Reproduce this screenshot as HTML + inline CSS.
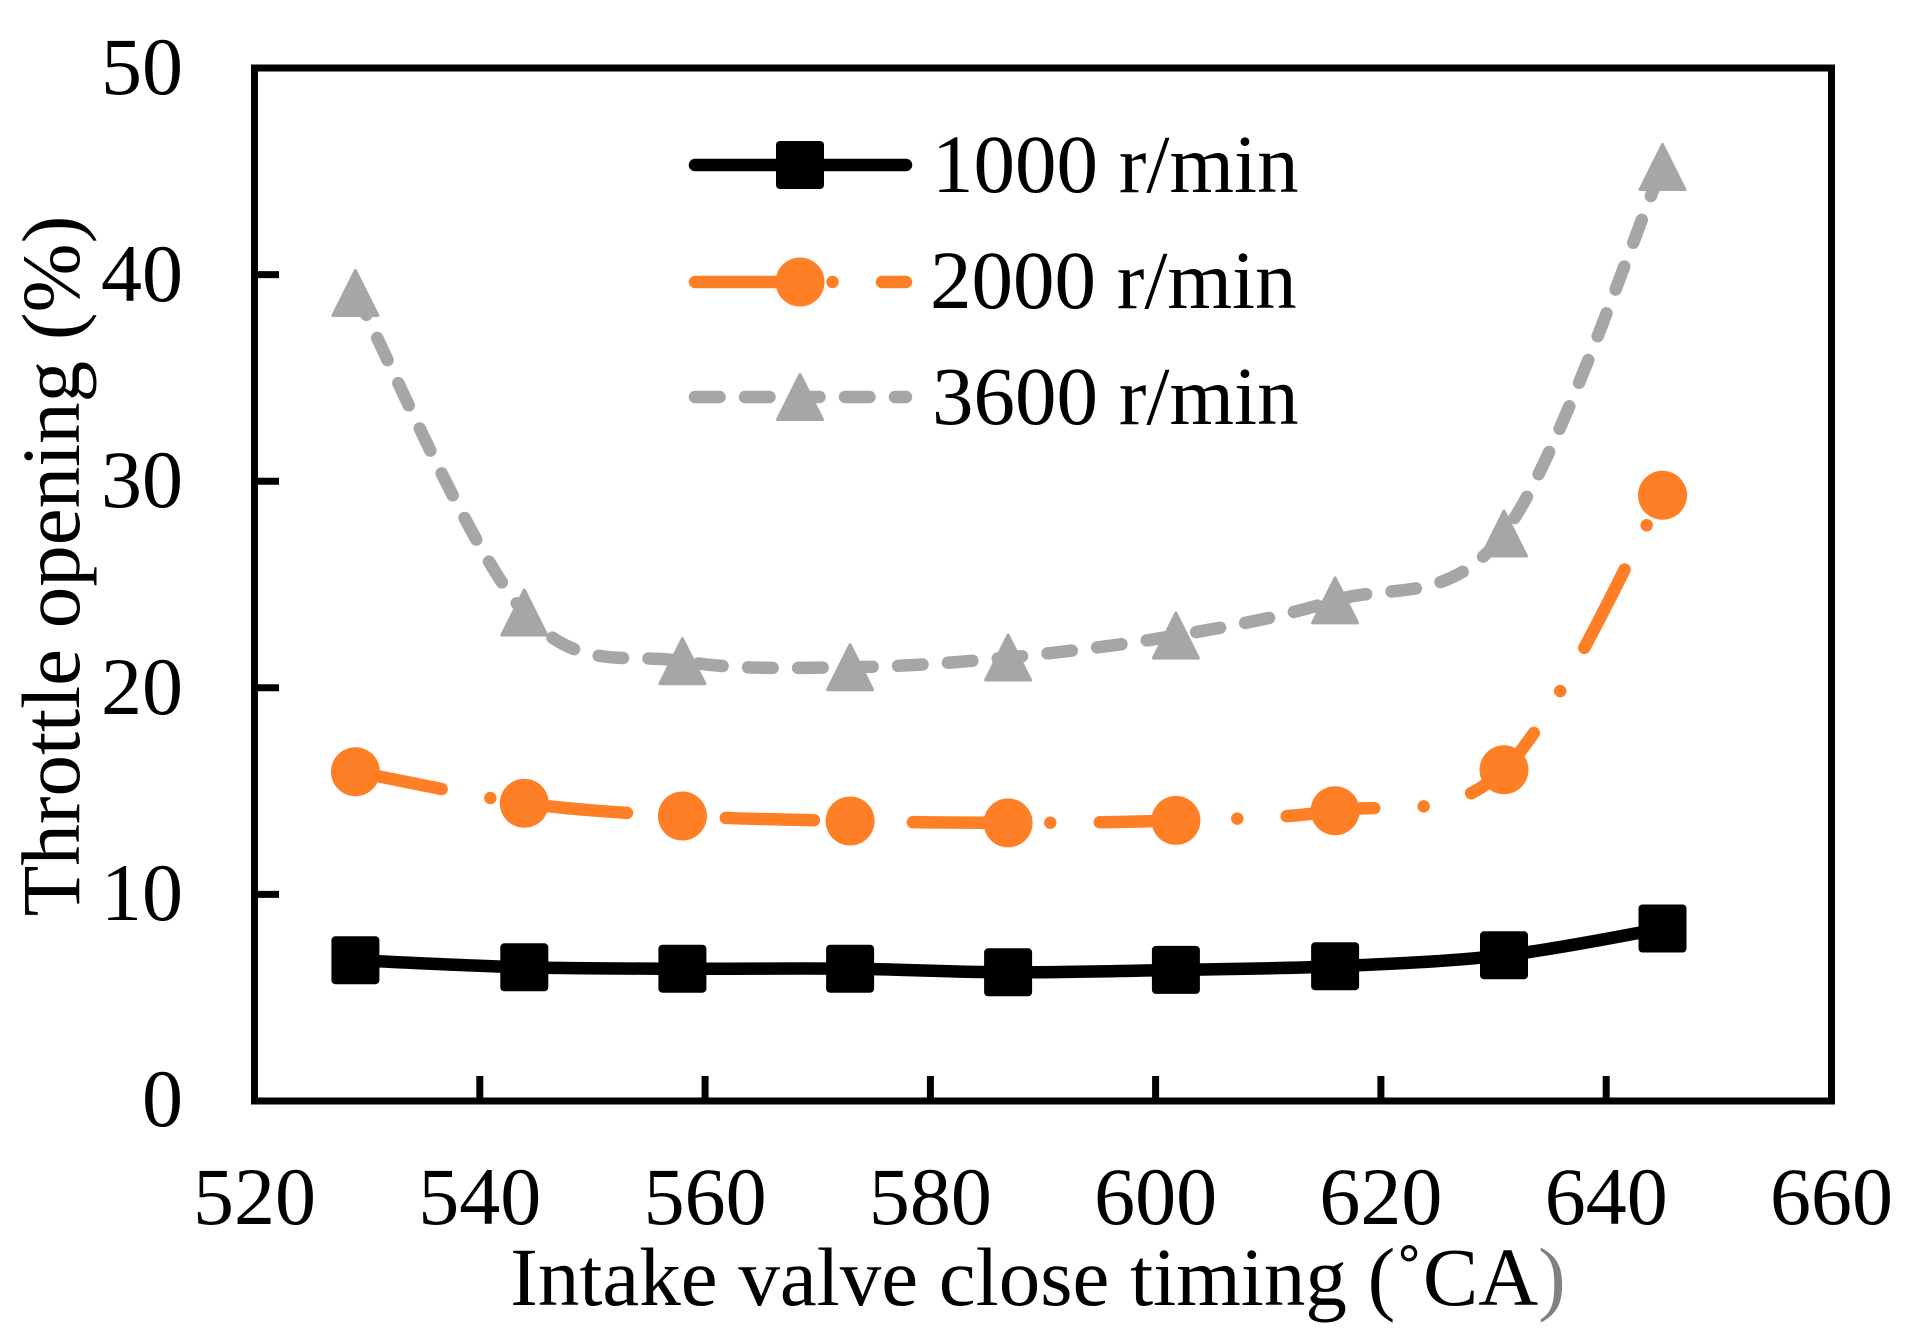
<!DOCTYPE html>
<html>
<head>
<meta charset="utf-8">
<style>
  html, body { margin: 0; padding: 0; background: #ffffff; }
  svg { display: block; }
  text { font-family: "Liberation Serif", "Times New Roman", serif; fill: #000; }
</style>
</head>
<body>
<svg id="chart" xmlns="http://www.w3.org/2000/svg" width="1910" height="1341" viewBox="0 0 1910 1341">
  <rect x="0" y="0" width="1910" height="1341" fill="#ffffff"/>

  <!-- plot frame -->
  <rect x="254.5" y="68" width="1577" height="1033" fill="none" stroke="#000" stroke-width="7"/>

  <!-- y ticks (inward) -->
  <g stroke="#000" stroke-width="7">
    <line x1="254.5" y1="894.4" x2="279" y2="894.4"/>
    <line x1="254.5" y1="687.8" x2="279" y2="687.8"/>
    <line x1="254.5" y1="481.2" x2="279" y2="481.2"/>
    <line x1="254.5" y1="274.6" x2="279" y2="274.6"/>
  </g>
  <!-- x ticks (inward) -->
  <g stroke="#000" stroke-width="7">
    <line x1="479.8" y1="1101" x2="479.8" y2="1076"/>
    <line x1="705.1" y1="1101" x2="705.1" y2="1076"/>
    <line x1="930.4" y1="1101" x2="930.4" y2="1076"/>
    <line x1="1155.6" y1="1101" x2="1155.6" y2="1076"/>
    <line x1="1380.9" y1="1101" x2="1380.9" y2="1076"/>
    <line x1="1606.2" y1="1101" x2="1606.2" y2="1076"/>
  </g>

  <!-- y tick labels -->
  <g font-size="82" text-anchor="end">
    <text x="183" y="1126">0</text>
    <text x="183" y="920">10</text>
    <text x="183" y="714">20</text>
    <text x="183" y="507">30</text>
    <text x="183" y="301">40</text>
    <text x="183" y="94">50</text>
  </g>

  <!-- x tick labels -->
  <g font-size="82" text-anchor="middle">
    <text x="254.5" y="1224">520</text>
    <text x="479.8" y="1224">540</text>
    <text x="705.1" y="1224">560</text>
    <text x="930.4" y="1224">580</text>
    <text x="1155.6" y="1224">600</text>
    <text x="1380.9" y="1224">620</text>
    <text x="1606.2" y="1224">640</text>
    <text x="1831.5" y="1224">660</text>
  </g>

  <!-- axis titles -->
  <text x="1038" y="1305" font-size="83" text-anchor="middle">Intake valve close timing (&#730;CA<tspan fill="#808080">)</tspan></text>
  <text transform="translate(79,566) rotate(-90)" font-size="83" text-anchor="middle">Throttle opening (%)</text>

  <!-- series -->
  <g id="series"></g>

  <!-- legend -->
  <g>
    <line x1="695" y1="165" x2="906" y2="165" stroke="#000" stroke-width="12.5" stroke-linecap="round"/>
    <rect x="776" y="141" width="48" height="48" rx="4" ry="4" fill="#000"/>
    <text x="932" y="192" font-size="83">1000 r/min</text>

    <line x1="695" y1="282" x2="906" y2="282" stroke="#FF7F27" stroke-width="12.5" stroke-linecap="round" stroke-dasharray="88 49.5 0 49.5"/>
    <circle cx="800" cy="282" r="24.5" fill="#FF7F27"/>
    <text x="930" y="308" font-size="83">2000 r/min</text>

    <line x1="695" y1="397" x2="906" y2="397" stroke="#A6A6A6" stroke-width="12.5" stroke-linecap="round" stroke-dasharray="24.5 25.5"/>
    <polygon points="800,374.5 777.5,419.5 822.5,419.5" fill="#A6A6A6" stroke="#A6A6A6" stroke-width="3" stroke-linejoin="round"/>
    <text x="932" y="424" font-size="83">3600 r/min</text>
  </g>
</svg>

<script>
(function(){
  var NS = "http://www.w3.org/2000/svg";
  var X = [355.4, 524.3, 682.4, 850.1, 1008.1, 1175.9, 1335.1, 1504.0, 1662.5];
  var series = [
    {y:[960.2, 967.3, 968.7, 968.7, 972.3, 969.9, 966.2, 955.3, 928.5], color:"#000000", dash:null, marker:"square"},
    {y:[771.7, 803.3, 816.0, 821.0, 822.9, 820.4, 810.7, 769.8, 495.3], color:"#FF7F27", dash:"88 49.5 0 49.5", marker:"circle"},
    {y:[293.0, 612.5, 661.2, 667.2, 657.5, 635.6, 600.4, 533.5, 167.0], color:"#A6A6A6", dash:"24.5 25.5", marker:"triangle"}
  ];
  function smooth(xs, ys){
    var n = xs.length, d = "M" + xs[0] + "," + ys[0];
    for (var i = 0; i < n - 1; i++){
      var p0 = i > 0 ? i - 1 : i;
      var p3 = i + 2 < n ? i + 2 : i + 1;
      var c1x = xs[i] + (xs[i+1] - xs[p0]) / 6;
      var c1y = ys[i] + (ys[i+1] - ys[p0]) / 6;
      var c2x = xs[i+1] - (xs[p3] - xs[i]) / 6;
      var c2y = ys[i+1] - (ys[p3] - ys[i]) / 6;
      d += " C" + c1x.toFixed(2) + "," + c1y.toFixed(2) + " " + c2x.toFixed(2) + "," + c2y.toFixed(2) + " " + xs[i+1] + "," + ys[i+1];
    }
    return d;
  }
  var g = document.getElementById("series");
  series.forEach(function(s){
    var p = document.createElementNS(NS, "path");
    p.setAttribute("d", smooth(X, s.y));
    p.setAttribute("fill", "none");
    p.setAttribute("stroke", s.color);
    p.setAttribute("stroke-width", "12.5");
    p.setAttribute("stroke-linecap", "round");
    p.setAttribute("stroke-linejoin", "round");
    if (s.dash) p.setAttribute("stroke-dasharray", s.dash);
    g.appendChild(p);
    for (var i = 0; i < X.length; i++){
      var cx = X[i], cy = s.y[i], m;
      if (s.marker === "square"){
        m = document.createElementNS(NS, "rect");
        m.setAttribute("x", cx - 24); m.setAttribute("y", cy - 24);
        m.setAttribute("width", 48); m.setAttribute("height", 48);
        m.setAttribute("rx", 4); m.setAttribute("ry", 4);
        m.setAttribute("fill", s.color);
      } else if (s.marker === "circle"){
        m = document.createElementNS(NS, "circle");
        m.setAttribute("cx", cx); m.setAttribute("cy", cy);
        m.setAttribute("r", 24.5);
        m.setAttribute("fill", s.color);
      } else {
        m = document.createElementNS(NS, "polygon");
        m.setAttribute("points",
          cx + "," + (cy - 22.5) + " " + (cx - 22.5) + "," + (cy + 22.5) + " " + (cx + 22.5) + "," + (cy + 22.5));
        m.setAttribute("fill", s.color);
        m.setAttribute("stroke", s.color);
        m.setAttribute("stroke-width", "3");
        m.setAttribute("stroke-linejoin", "round");
      }
      g.appendChild(m);
    }
  });
})();
</script>
</body>
</html>
